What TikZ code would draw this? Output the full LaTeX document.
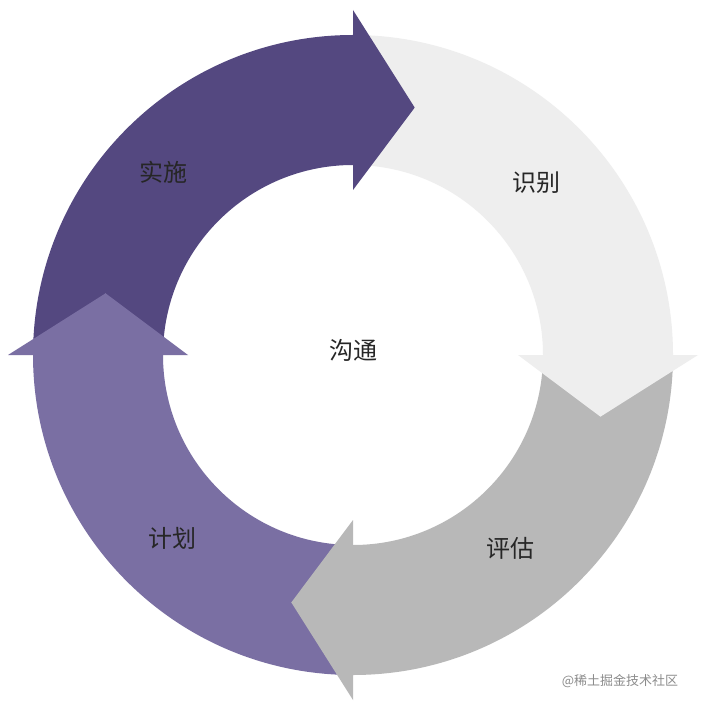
\documentclass[tikz,border=0pt]{standalone}
\usepackage{fontspec}
\newfontfamily\cjk{Noto Sans CJK SC}
\begin{document}
\begin{tikzpicture}[x=1pt,y=1pt,
  lbl/.style={font=\cjk\fontsize{24}{26}\selectfont, text=black!85}]
\useasboundingbox (0,0) rectangle (706,-708);
\fill[white] (0,0) rectangle (706,-708);
\newcommand\ringbody[2]{%
  \fill[#2] (#1:320pt) arc[start angle=#1, end angle=#1-90, radius=320pt]
    -- (#1-90:190pt)
    arc[start angle=#1-90, end angle=#1, radius=190pt] -- (#1-14:255pt) -- cycle;}
\newcommand\ringhead[2]{%
  \fill[#2] (#1-90:345pt) -- (#1-104:255pt) -- (#1-90:165pt) -- cycle;}
\definecolor{ca}{RGB}{84,72,128}
\definecolor{cb}{RGB}{238,238,238}
\definecolor{cc}{RGB}{184,184,184}
\definecolor{cd}{RGB}{122,111,163}
\begin{scope}[shift={(353,-355)}]
  \ringbody{180}{ca}
  \ringbody{90}{cb}
  \ringbody{0}{cc}
  \ringbody{-90}{cd}
  \ringhead{180}{ca}
  \ringhead{90}{cb}
  \ringhead{0}{cc}
  \ringhead{-90}{cd}
\end{scope}
\node[lbl] (a) at (163,-172) {实施};
\node[lbl] (b) at (536,-183) {识别};
\node[lbl] (c) at (510,-548) {评估};
\node[lbl] (d) at (172,-538) {计划};
\node[lbl] (e) at (353,-350) {沟通};
\node[font=\cjk\fontsize{13}{15}\selectfont, text=black!45] (w) at (620,-681) {@稀土掘金技术社区};
\end{tikzpicture}
\end{document}
